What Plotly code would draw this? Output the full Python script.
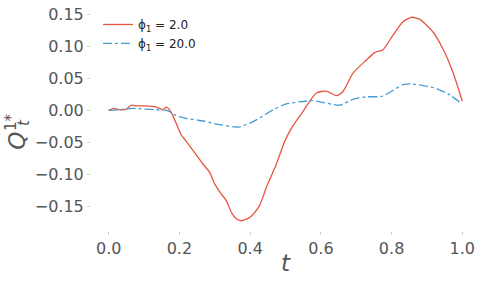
import plotly.graph_objects as go

# Data
t_red = [0.0, 0.015, 0.03, 0.05, 0.064, 0.08, 0.10, 0.125, 0.14, 0.153, 0.163, 0.172,
         0.182, 0.196, 0.205, 0.219, 0.243, 0.267, 0.286, 0.30, 0.318, 0.333, 0.347,
         0.361, 0.375, 0.399, 0.413, 0.427, 0.446, 0.474, 0.498, 0.52, 0.549, 0.587,
         0.615, 0.644, 0.662, 0.691, 0.728, 0.752, 0.775, 0.804, 0.832, 0.856, 0.879,
         0.917, 0.945, 0.973, 1.0]
q_red = [0.0, 0.003, 0.001, 0.002, 0.008, 0.007, 0.007, 0.006, 0.004, 0.001, 0.005, 0.001,
         -0.009, -0.027, -0.038, -0.048, -0.066, -0.084, -0.097, -0.115, -0.130, -0.141, -0.159,
         -0.169, -0.172, -0.167, -0.159, -0.148, -0.120, -0.084, -0.048, -0.025, -0.002, 0.027,
         0.030, 0.023, 0.029, 0.058, 0.078, 0.090, 0.094, 0.117, 0.138, 0.145, 0.142,
         0.122, 0.096, 0.060, 0.014]

t_blue = [0.0, 0.03, 0.068, 0.10, 0.13, 0.165, 0.187, 0.215, 0.271, 0.309, 0.361, 0.37,
          0.399, 0.427, 0.465, 0.502, 0.578, 0.653, 0.691, 0.728, 0.775, 0.832, 0.860,
          0.926, 0.964, 1.0]
q_blue = [0.0, 0.001, 0.003, 0.002, 0.001, 0.0, -0.007, -0.012, -0.017, -0.022, -0.026, -0.026,
          -0.020, -0.012, 0.001, 0.010, 0.015, 0.008, 0.017, 0.021, 0.022, 0.040, 0.041,
          0.034, 0.024, 0.010]

x_ticks = [0.0, 0.2, 0.4, 0.6, 0.8, 1.0]
y_ticks = [-0.15, -0.10, -0.05, 0.0, 0.05, 0.10, 0.15]
series_names = ["\u03d5<sub>1</sub> = 2.0", "\u03d5<sub>1</sub> = 20.0"]

FONT = "DejaVu Sans"
TICKC = "#555555"

fig = go.Figure()
fig.add_trace(go.Scatter(x=t_red, y=q_red, mode="lines", name=series_names[0],
                         line=dict(color="#E8553F", width=1.3, shape="spline", smoothing=0.6)))
fig.add_trace(go.Scatter(x=t_blue, y=q_blue, mode="lines", name=series_names[1],
                         line=dict(color="#4A9BD4", width=1.3, dash="dashdot", shape="spline", smoothing=0.6)))

W, H = 485, 281
L, R, T, B = 91, 5, 5, 50
pw, ph = W - L - R, H - T - B

def px(xp):
    return (xp - L) / pw

def py(yp):
    return (H - B - yp) / ph

fig.update_layout(
    width=W, height=H,
    margin=dict(l=L, r=R, t=T, b=B, pad=0),
    paper_bgcolor="white", plot_bgcolor="white",
    font=dict(family=FONT, color=TICKC),
    showlegend=True,
    legend=dict(x=px(98), y=py(8), xanchor="left", yanchor="top",
                font=dict(family=FONT, size=12, color="#222222"),
                bgcolor="rgba(0,0,0,0)", tracegroupgap=0, itemwidth=30),
    xaxis=dict(range=[-0.05, 1.05], tickvals=x_ticks, tickformat=".1f",
               showgrid=False, zeroline=False, showline=False,
               ticks="outside", ticklen=3, tickcolor="#cccccc",
               tickfont=dict(family=FONT, size=16, color=TICKC)),
    yaxis=dict(range=[-0.188, 0.161], tickvals=y_ticks, tickformat=".2f",
               showgrid=False, zeroline=False, showline=False,
               ticks="outside", ticklen=3, tickcolor="#cccccc",
               tickfont=dict(family=FONT, size=16, color=TICKC),
               ticklabeloverflow="allow"),
)

def ann(text, x, y, size, angle=0):
    fig.add_annotation(text=text, x=px(x), y=py(y), xref="paper", yref="paper",
                       xanchor="center", yanchor="middle", textangle=angle,
                       showarrow=False, font=dict(family=FONT, size=size, color=TICKC))

# x axis title
ann("<i>t</i>", 286, 263, 23)
# y axis title Q_t^{1*}
ann("<i>Q</i>", 17, 140, 23, -90)
ann("1*", 11, 121, 15, -90)
ann("<i>t</i>", 24, 122, 15, -90)

fig.write_html("out.html", config={"displayModeBar": False},
               post_script="document.body.style.margin='0';")
